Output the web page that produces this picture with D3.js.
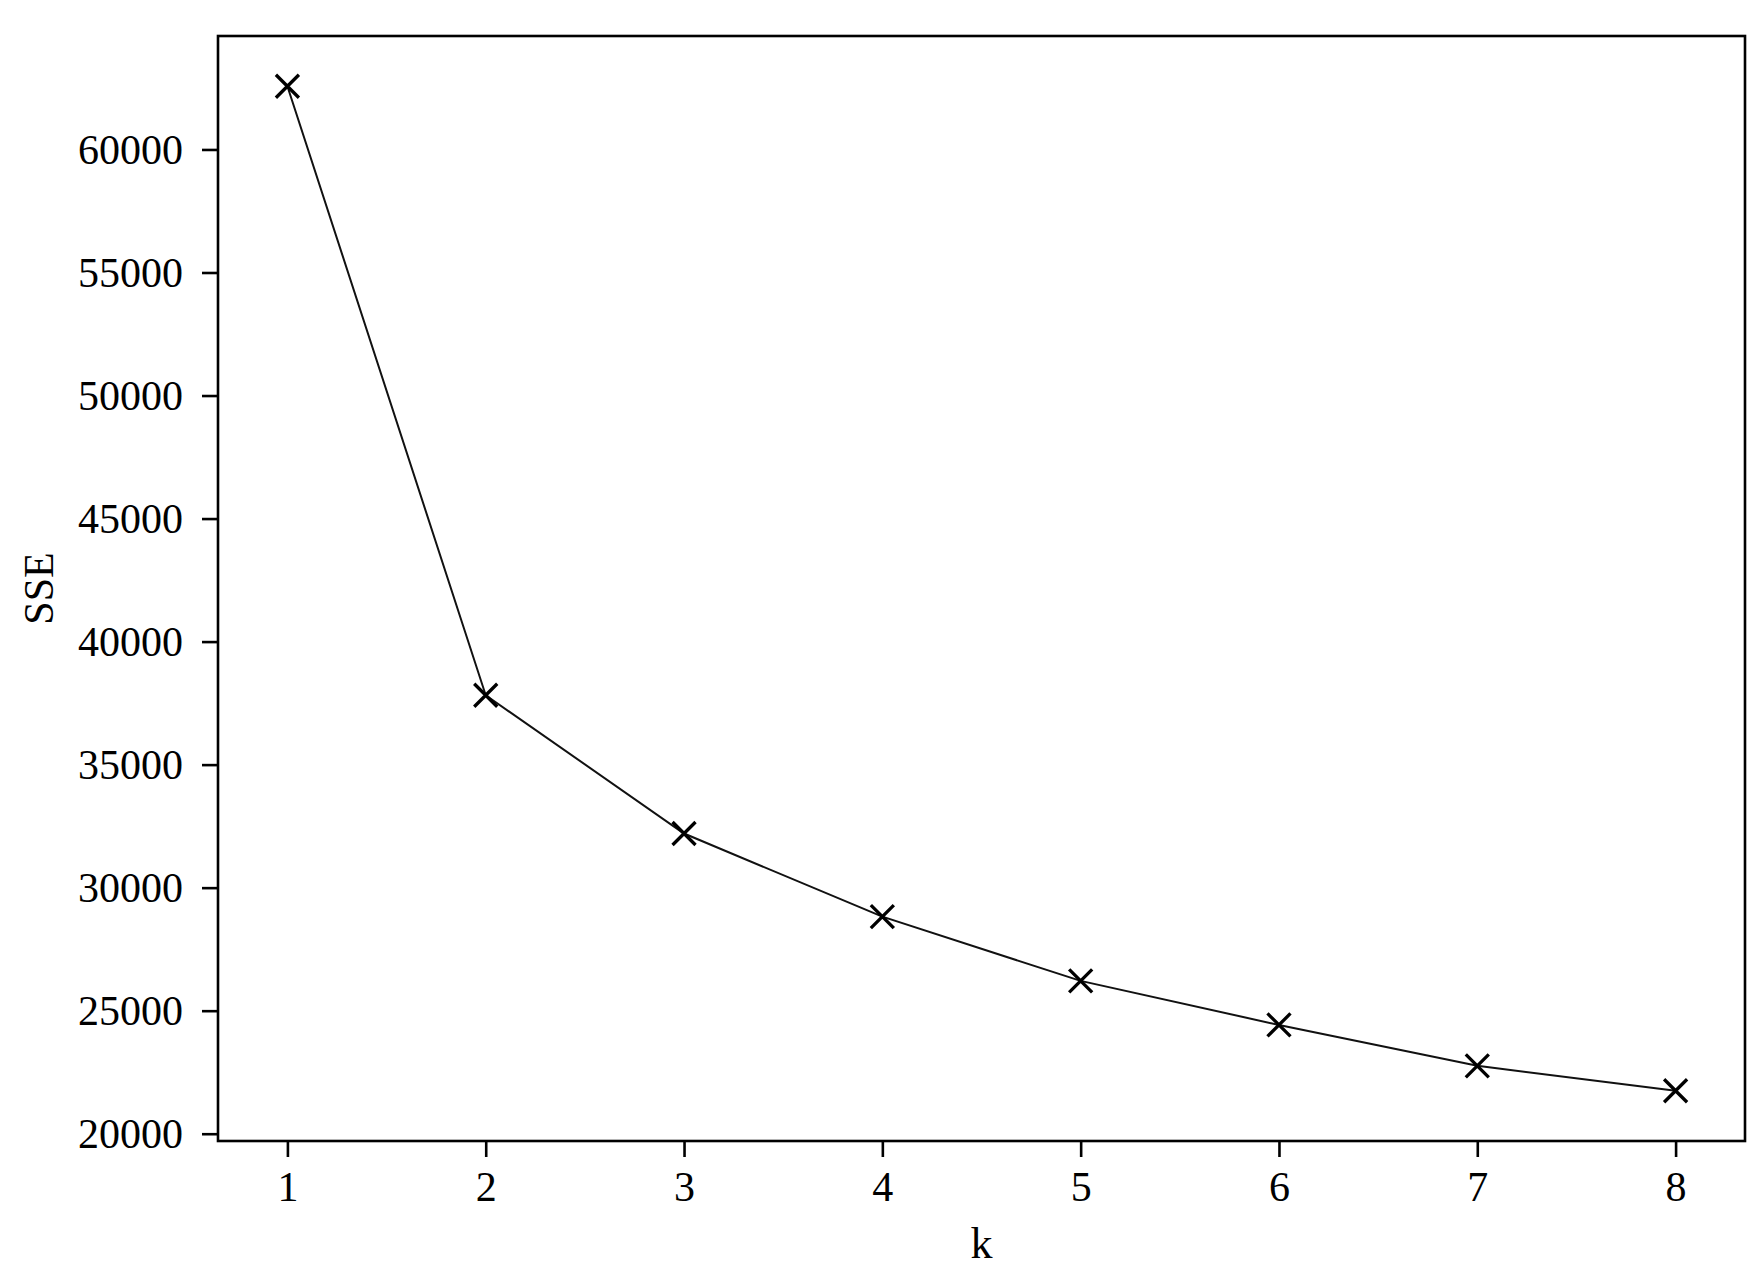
<!DOCTYPE html>
<html>
<head>
<meta charset="utf-8">
<script src="https://cdn.jsdelivr.net/npm/d3@7"></script>
<style>
html,body{margin:0;padding:0;background:#fff;}
svg{display:block;}
text{font-family:"Liberation Serif","Times New Roman",serif;fill:#000;}
</style>
</head>
<body>
<script>
const kValues = [1, 2, 3, 4, 5, 6, 7, 8];
const sseValues = [62570, 37820, 32200, 28820, 26210, 24420, 22760, 21745];
const xTicks = [1, 2, 3, 4, 5, 6, 7, 8];
const yTicks = [20000, 25000, 30000, 35000, 40000, 45000, 50000, 55000, 60000];
const xLabel = "k";
const yLabel = "SSE";

const W = 1761, H = 1273;
const m = {left: 218, top: 36, right: 16, bottom: 132};
const iw = W - m.left - m.right, ih = H - m.top - m.bottom;

const svg = d3.select("body").append("svg").attr("width", W).attr("height", H);
const g = svg.append("g").attr("transform", `translate(${m.left},${m.top})`);

const xr = d3.extent(kValues), yr = d3.extent(sseValues);
const xm = (xr[1]-xr[0])*0.05, ym = (yr[1]-yr[0])*0.05;
const x = d3.scaleLinear().domain([xr[0]-xm, xr[1]+xm]).range([0, iw]);
const y = d3.scaleLinear().domain([yr[0]-ym, yr[1]+ym]).range([ih, 0]);

const xAxis = g.append("g").attr("transform", `translate(0,${ih})`)
  .call(d3.axisBottom(x).tickValues(xTicks).tickFormat(d3.format("d")).tickSize(16).tickSizeOuter(0));
xAxis.select(".domain").remove();
xAxis.selectAll(".tick line").attr("stroke", "#000").attr("stroke-width", 2.6);
xAxis.selectAll(".tick text").attr("y", 60).attr("dy", 0).attr("font-size", 42)
  .style("font-family", '"Liberation Serif", serif');

const yAxis = g.append("g")
  .call(d3.axisLeft(y).tickValues(yTicks).tickFormat(d3.format("d")).tickSize(16).tickSizeOuter(0));
yAxis.select(".domain").remove();
yAxis.selectAll(".tick line").attr("stroke", "#000").attr("stroke-width", 2.6);
yAxis.selectAll(".tick text").attr("x", -35).attr("dy", "0.34em").attr("font-size", 42)
  .style("font-family", '"Liberation Serif", serif');

// line
g.append("path").datum(kValues.map((k,i)=>[k, sseValues[i]]))
  .attr("fill", "none").attr("stroke", "#111").attr("stroke-width", 2)
  .attr("d", d3.line().x(d=>x(d[0])).y(d=>y(d[1])));

// x markers
const s = 11.5;
const mk = g.append("g").selectAll("g").data(kValues.map((k,i)=>[k, sseValues[i]])).join("g")
  .attr("transform", d=>`translate(${x(d[0])},${y(d[1])})`);
mk.append("path").attr("d", `M${-s},${-s}L${s},${s}M${-s},${s}L${s},${-s}`)
  .attr("stroke", "#000").attr("stroke-width", 3.3).attr("fill", "none");

// frame
g.append("rect").attr("x", 0).attr("y", 0).attr("width", iw).attr("height", ih)
  .attr("fill", "none").attr("stroke", "#000").attr("stroke-width", 2.6);

// labels
svg.append("text").attr("x", m.left + iw/2).attr("y", 1258).attr("text-anchor", "middle")
  .attr("font-size", 44).text(xLabel);
svg.append("text").attr("transform", `translate(53,${m.top + ih/2}) rotate(-90)`)
  .attr("text-anchor", "middle").attr("font-size", 42).text(yLabel);
</script>
</body>
</html>
